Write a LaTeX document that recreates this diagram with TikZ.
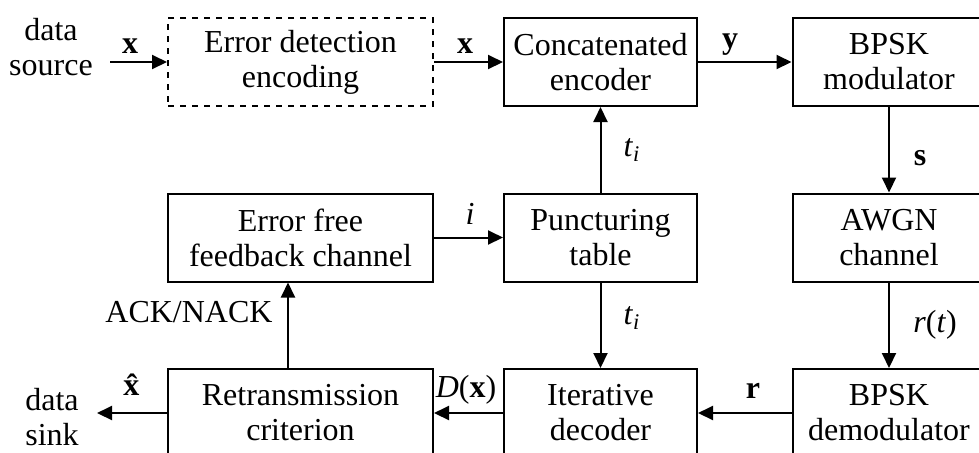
\documentclass[tikz,border=0pt]{standalone}
\usepackage{fontspec}
\setmainfont{Liberation Serif}
\usetikzlibrary{arrows.meta}
\tikzset{
  blk/.style={draw, line width=1pt, inner sep=0pt, align=center,
    font=\fontsize{16}{17.5}\selectfont},
  wide/.style={blk, minimum width=132.5pt, minimum height=44pt},
  narrow/.style={blk, minimum width=96.5pt, minimum height=44pt},
  lbl/.style={inner sep=0pt, align=center, font=\fontsize{16}{17.5}\selectfont},
  flow/.style={line width=1pt, -{Triangle[length=7.5pt,width=7pt]}},
  plain/.style={line width=1pt}
}
\begin{document}
\begin{tikzpicture}[x=0.5pt, y=-0.5pt]
\useasboundingbox (0,0) rectangle (979,452);
\clip (0,0) rectangle (979,452);
% top row
\node[wide, dashed] (ede) at (300.5,62) {Error detection\\encoding};
\node[narrow] (conc) at (600.5,62) {Concatenated\\encoder};
\node[narrow] (mod) at (889,62) {BPSK\\modulator};
% middle row
\node[wide] (efc) at (300.5,237.5) {Error free\\feedback channel};
\node[narrow] (punc) at (600.5,237.5) {Puncturing\\table};
\node[narrow] (awgn) at (889,237.5) {AWGN\\channel};
% bottom row
\node[wide] (retx) at (300.5,413) {Retransmission\\criterion};
\node[narrow] (dec) at (600.5,413) {Iterative\\decoder};
\node[narrow] (demod) at (889,413) {BPSK\\demodulator};
% source and sink
\node[lbl] (src) at (51,47) {data\\source};
\node[lbl] (sink) at (52,417) {data\\sink};
\coordinate (srcend) at (110,62);
\coordinate (sinkend) at (97,413);
\coordinate (fbx) at (288,0);
% connectors
\draw[flow] (srcend) -- (ede.west);
\draw[flow] (ede.east) -- (conc.west);
\draw[flow] (conc.east) -- (mod.west);
\draw[flow] (mod.south) -- (awgn.north);
\draw[flow] (awgn.south) -- (demod.north);
\draw[flow] (demod.west) -- (dec.east);
\draw[flow] (dec.west) -- (retx.east);
\draw[flow] (retx.west) -- (sinkend);
\draw[flow] (punc.north) -- (conc.south);
\draw[flow] (punc.south) -- (dec.north);
\draw[flow] (efc.east) -- (punc.west);
\draw[flow] (retx.north -| fbx) -- (efc.south -| fbx);
% connector labels
\node[lbl] at (130,46) {\textbf{x}};
\node[lbl] at (465,46) {\textbf{x}};
\node[lbl] at (730,45) {\textbf{y}};
\node[lbl] at (920,158) {\textbf{s}};
\node[lbl] at (632,150) {\textit{t}\textsubscript{\textit{i}}};
\node[lbl] at (632,318) {\textit{t}\textsubscript{\textit{i}}};
\node[lbl] at (935,325) {\textit{r}(\textit{t})};
\node[lbl] at (470,214) {\textit{i}};
\node[lbl] at (189,312) {ACK/NACK};
\node[lbl] at (134,385) {\textbf{\^{x}}};
\node[lbl] at (466,390) {\textit{D}(\textbf{x})};
\node[lbl] at (753,391) {\textbf{r}};
\end{tikzpicture}
\end{document}
